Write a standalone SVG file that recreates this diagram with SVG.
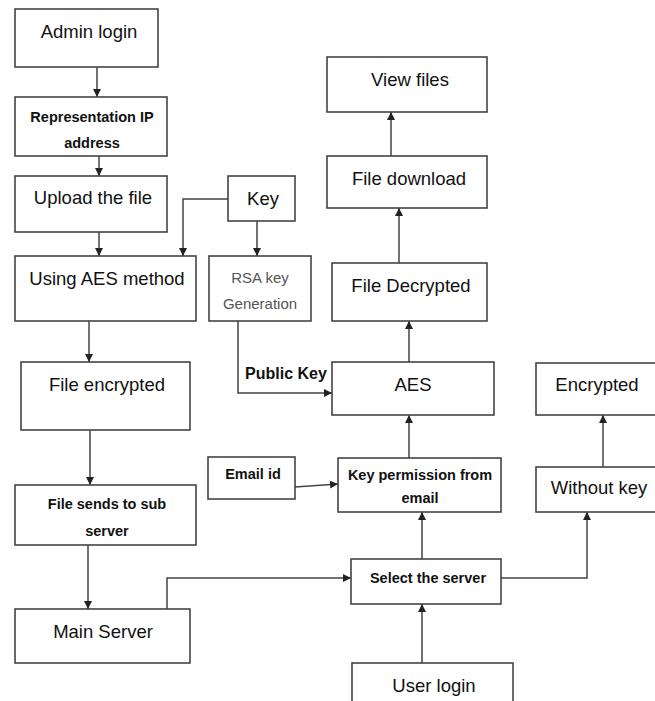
<svg xmlns="http://www.w3.org/2000/svg" width="655" height="701" viewBox="0 0 655 701">
  <defs>
    <marker id="arrow" viewBox="0 0 10 10" refX="10" refY="5" markerWidth="8" markerHeight="8" markerUnits="userSpaceOnUse" orient="auto">
      <path d="M0,0 L10,5 L0,10 z" fill="#222"/>
    </marker>
    <style>
      .box { fill: #fff; stroke: #444; stroke-width: 1.6; }
      .t { font-family: "Liberation Sans", Arial, sans-serif; fill: #111; text-anchor: middle; dominant-baseline: central; }
      .lg { font-size: 18.5px; }
      .sb { font-size: 14.5px; font-weight: bold; }
      .lt { font-size: 15px; fill: #555; }
      .edge { fill: none; stroke: #444; stroke-width: 1.5; }
      .edge.a { marker-end: url(#arrow); }
    </style>
  </defs>
  <rect width="655" height="701" fill="#fff"/>

  <g id="connectors">
    <path class="edge a" d="M97,67 V97"/>
    <path class="edge a" d="M99,156 V176"/>
    <path class="edge a" d="M99,232 V256"/>
    <path class="edge a" d="M228,199 H183 V256"/>
    <path class="edge a" d="M257,221 V256"/>
    <path class="edge a" d="M89,321 V362"/>
    <path class="edge a" d="M238,321 V393 H332"/>
    <path class="edge a" d="M90,430 V485"/>
    <path class="edge a" d="M88,545 V609"/>
    <path class="edge a" d="M167,609 V578 H351"/>
    <path class="edge a" d="M295,487 L338,484"/>
    <path class="edge a" d="M422,663 V604"/>
    <path class="edge a" d="M422,559 V512"/>
    <path class="edge a" d="M501,578 H587 V512"/>
    <path class="edge a" d="M409,458 V415"/>
    <path class="edge a" d="M603,467 V415"/>
    <path class="edge a" d="M409,362 V321"/>
    <path class="edge a" d="M399,263 V208"/>
    <path class="edge a" d="M391,156 V112"/>
  </g>

  <g id="admin-login">
    <rect class="box" x="15" y="9" width="143" height="58"/>
    <text class="t lg" x="89" y="31">Admin login</text>
  </g>
  <g id="representation-ip">
    <rect class="box" x="15" y="97" width="152" height="59"/>
    <text class="t sb" x="92" y="117">Representation IP</text>
    <text class="t sb" x="92" y="143">address</text>
  </g>
  <g id="upload-file">
    <rect class="box" x="15" y="176" width="152" height="56"/>
    <text class="t lg" x="93" y="197">Upload the file</text>
  </g>
  <g id="key">
    <rect class="box" x="228" y="176" width="67" height="45"/>
    <text class="t lg" x="263" y="198">Key</text>
  </g>
  <g id="using-aes">
    <rect class="box" x="15" y="256" width="181" height="65"/>
    <text class="t lg" x="107" y="278">Using AES method</text>
  </g>
  <g id="rsa-key">
    <rect class="box" x="209" y="256" width="102" height="65"/>
    <text class="t lt" x="260" y="277">RSA key</text>
    <text class="t lt" x="260" y="303">Generation</text>
  </g>
  <text class="t" x="286" y="373" style="font-size:16px;font-weight:bold">Public Key</text>
  <g id="file-encrypted">
    <rect class="box" x="21" y="362" width="169" height="68"/>
    <text class="t lg" x="107" y="384">File encrypted</text>
  </g>
  <g id="file-sends">
    <rect class="box" x="15" y="485" width="181" height="60"/>
    <text class="t sb" x="107" y="504">File sends to sub</text>
    <text class="t sb" x="107" y="531">server</text>
  </g>
  <g id="main-server">
    <rect class="box" x="15" y="609" width="175" height="54"/>
    <text class="t lg" x="103" y="631">Main Server</text>
  </g>
  <g id="email-id">
    <rect class="box" x="208" y="457" width="87" height="42"/>
    <text class="t sb" x="253" y="474">Email id</text>
  </g>
  <g id="view-files">
    <rect class="box" x="327" y="57" width="160" height="55"/>
    <text class="t lg" x="410" y="79">View files</text>
  </g>
  <g id="file-download">
    <rect class="box" x="327" y="156" width="160" height="52"/>
    <text class="t lg" x="409" y="178">File download</text>
  </g>
  <g id="file-decrypted">
    <rect class="box" x="332" y="263" width="155" height="58"/>
    <text class="t lg" x="411" y="285">File Decrypted</text>
  </g>
  <g id="aes">
    <rect class="box" x="332" y="362" width="162" height="53"/>
    <text class="t lg" x="413" y="384">AES</text>
  </g>
  <g id="encrypted">
    <rect class="box" x="536" y="363" width="130" height="52"/>
    <text class="t lg" x="597" y="384">Encrypted</text>
  </g>
  <g id="key-permission">
    <rect class="box" x="338" y="458" width="163" height="54"/>
    <text class="t sb" x="420" y="475">Key permission from</text>
    <text class="t sb" x="420" y="498">email</text>
  </g>
  <g id="without-key">
    <rect class="box" x="536" y="467" width="130" height="45"/>
    <text class="t lg" x="599" y="487">Without key</text>
  </g>
  <g id="select-server">
    <rect class="box" x="351" y="559" width="150" height="45"/>
    <text class="t sb" x="428" y="578">Select the server</text>
  </g>
  <g id="user-login">
    <rect class="box" x="352" y="663" width="161" height="50"/>
    <text class="t lg" x="434" y="685">User login</text>
  </g>
</svg>
